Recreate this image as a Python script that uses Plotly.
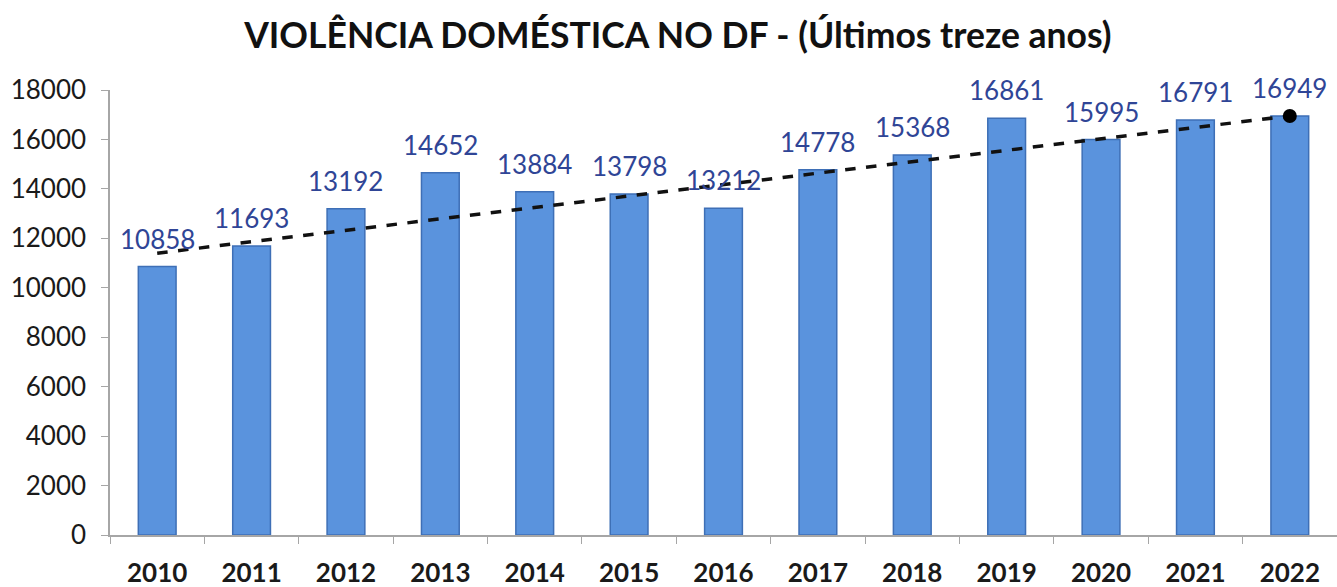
import plotly.graph_objects as go

years = ["2010", "2011", "2012", "2013", "2014", "2015", "2016",
         "2017", "2018", "2019", "2020", "2021", "2022"]
cases = [10858, 11693, 13192, 14652, 13884, 13798, 13212,
         14778, 15368, 16861, 15995, 16791, 16949]
trend_years = ["2010", "2022"]
trend_values = [11400, 16949]
y_ticks = [0, 2000, 4000, 6000, 8000, 10000, 12000, 14000, 16000, 18000]

FONT = "Lato, Open Sans, sans-serif"

fig = go.Figure()

fig.add_trace(go.Bar(
    x=years, y=cases,
    marker=dict(color="#5a93dd", line=dict(color="#3e6fb6", width=1.5)),
    width=0.4,
    hoverinfo="x+y",
))

fig.add_trace(go.Scatter(
    x=trend_years, y=trend_values,
    mode="lines",
    line=dict(color="#111111", width=3.5, dash="dash"),
    hoverinfo="skip",
))
fig.add_trace(go.Scatter(
    x=[trend_years[-1]], y=[trend_values[-1]],
    mode="markers",
    marker=dict(color="#000000", size=14),
    hoverinfo="skip",
))

# value labels above each bar (positioned by category index)
for i, v in enumerate(cases):
    fig.add_annotation(
        x=i, y=v, xref="x", yref="y", text=str(v), showarrow=False,
        yanchor="bottom", yshift=10,
        font=dict(family=FONT, size=26, color="#2f4596"),
    )

fig.update_layout(
    width=1337, height=587,
    paper_bgcolor="white", plot_bgcolor="white",
    showlegend=False,
    margin=dict(l=110, r=0, t=90, b=52),
    title=dict(
        text="<b>VIOLÊNCIA DOMÉSTICA NO DF - (Últimos treze anos)</b>",
        x=0.507, xanchor="center", y=0.94, yanchor="middle",
        font=dict(family=FONT, size=35.5, color="#111111"),
    ),
    xaxis=dict(
        type="category", categoryorder="array", categoryarray=years,
        range=[-0.5, len(years) - 0.5], tickangle=0,
        showline=True, linecolor="#a6a6a6", linewidth=1.5,
        ticks="outside", tickson="boundaries", ticklen=7, tickcolor="#a6a6a6",
        ticklabelstandoff=14,
        tickfont=dict(family=FONT, size=26, color="#1a1a1a", weight="bold"),
        showgrid=False,
    ),
    yaxis=dict(
        range=[0, 18000], tickvals=y_ticks, ticktext=[str(t) for t in y_ticks],
        showline=True, linecolor="#a6a6a6", linewidth=1.5,
        ticks="outside", ticklen=7, tickcolor="#a6a6a6",
        ticklabelstandoff=10,
        tickfont=dict(family=FONT, size=26, color="#1a1a1a"),
        showgrid=False, zeroline=False,
    ),
)

fig.write_html("out.html")
